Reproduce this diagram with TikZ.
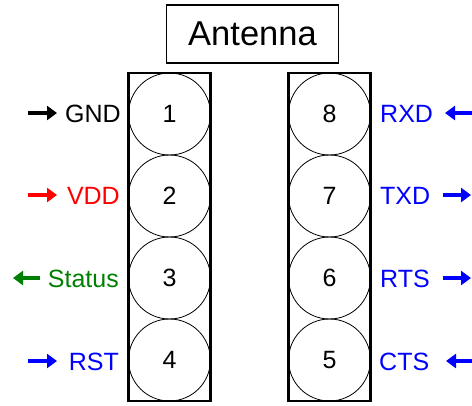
\documentclass[tikz,border=0pt]{standalone}
\usepackage{fontspec}
\setmainfont{Liberation Sans}
\usetikzlibrary{arrows.meta}
\definecolor{sigred}{RGB}{255,0,0}
\definecolor{siggreen}{RGB}{0,128,0}
\definecolor{sigblue}{RGB}{0,0,255}
\begin{document}
\begin{tikzpicture}[x=1pt,y=-1pt,
  pin/.style={circle,draw,line width=0.8pt,minimum size=82pt,inner sep=0pt,font=\fontsize{25}{30}\selectfont},
  header/.style={draw,line width=2.8pt},
  lbl/.style={inner sep=0pt,font=\fontsize{25}{30}\selectfont},
  sig/.style={line width=3.6pt,-{Triangle[length=10pt,width=14pt]}}]
\useasboundingbox (0,0) rectangle (472,405);
% antenna
\node[draw,line width=1.2pt,minimum width=172pt,minimum height=58pt,inner sep=0pt,font=\fontsize{34.5}{40}\selectfont] (ant) at (252.5,34) {Antenna};
% headers
\draw[header] (128.5,73) rectangle (210.5,401);
\draw[header] (288.5,73) rectangle (370.5,401);
% pins
\node[pin] (c1) at (169.5,114) {1};
\node[pin] (c2) at (169.5,196) {2};
\node[pin] (c3) at (169.5,278) {3};
\node[pin] (c4) at (169.5,360) {4};
\node[pin] (c8) at (329.5,114) {8};
\node[pin] (c7) at (329.5,196) {7};
\node[pin] (c6) at (329.5,278) {6};
\node[pin] (c5) at (329.5,360) {5};
% left labels
\node[lbl,anchor=base east] (gnd) at (121,122) {GND};
\node[lbl,anchor=base east,text=sigred] (vdd) at (120,204) {VDD};
\node[lbl,anchor=base east,text=siggreen] (status) at (119,287) {Status};
\node[lbl,anchor=base east,text=sigblue] (rst) at (119,370) {RST};
% right labels
\node[lbl,anchor=base west,text=sigblue] (rxd) at (380,122) {RXD};
\node[lbl,anchor=base west,text=sigblue] (txd) at (380,204) {TXD};
\node[lbl,anchor=base west,text=sigblue] (rts) at (380,287) {RTS};
\node[lbl,anchor=base west,text=sigblue] (cts) at (379,370) {CTS};
% arrow endpoints
\coordinate (g0) at (28,113);  \coordinate (g1) at (57,113);
\coordinate (v0) at (28,195);  \coordinate (v1) at (57,195);
\coordinate (s0) at (40,278);  \coordinate (s1) at (13,278);
\coordinate (r0) at (28,361);  \coordinate (r1) at (57,361);
\coordinate (x0) at (472,113); \coordinate (x1) at (445,113);
\coordinate (t0) at (443,195); \coordinate (t1) at (471,195);
\coordinate (q0) at (443,278); \coordinate (q1) at (471,278);
\coordinate (k0) at (472,361); \coordinate (k1) at (446,361);
\draw[sig,black] (g0) -- (g1);
\draw[sig,sigred] (v0) -- (v1);
\draw[sig,siggreen] (s0) -- (s1);
\draw[sig,sigblue] (r0) -- (r1);
\draw[sig,sigblue] (x0) -- (x1);
\draw[sig,sigblue] (t0) -- (t1);
\draw[sig,sigblue] (q0) -- (q1);
\draw[sig,sigblue] (k0) -- (k1);
\end{tikzpicture}
\end{document}
